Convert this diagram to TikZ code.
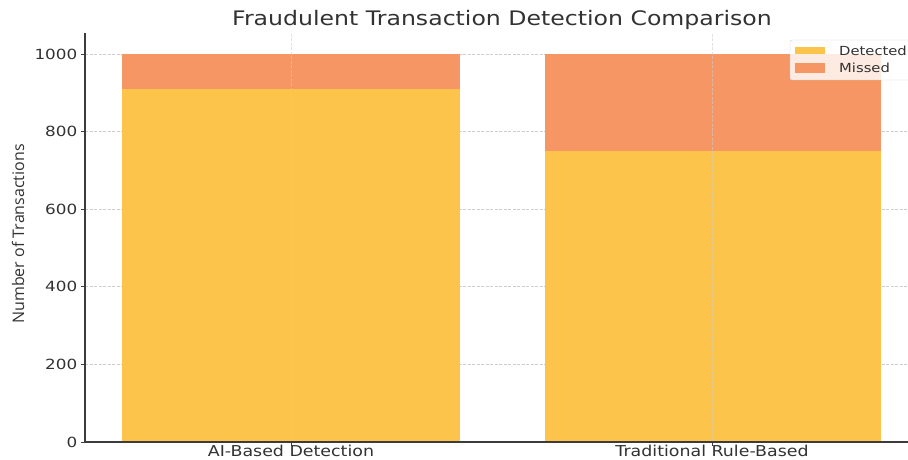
\documentclass[tikz,border=0pt]{standalone}
\usepackage{fontspec}
\setmainfont{DejaVu Sans}
\newfontfamily\ylabfont{Open Sans}
\definecolor{detected}{RGB}{253,196,75}
\definecolor{missed}{RGB}{245,150,100}
\definecolor{spine}{RGB}{60,60,60}
\definecolor{gridgray}{RGB}{205,205,205}
\definecolor{textgray}{RGB}{50,50,50}

\begin{document}
\begin{tikzpicture}[x=1pt,y=1pt,
  gridline/.style={gridgray,dash pattern=on 3pt off 1.5pt,line width=0.7pt},
  ticklabel/.style={text=textgray,inner sep=0pt,xscale=1.2,font=\fontsize{14}{14}\selectfont},
  catlabel/.style={text=textgray,inner sep=0pt,xscale=1.16,font=\fontsize{15}{15}\selectfont},
  legtext/.style={text=textgray,inner sep=0pt,anchor=west,xscale=1.18,font=\fontsize{12.5}{12.5}\selectfont}]
\useasboundingbox (0,0) rectangle (908,459);
\clip (0,0) rectangle (908,459);

\coordinate (O) at (85,17);% axes origin
\coordinate (T) at (85,426);% top of y axis
\coordinate (R) at (915,17);% right end, cut off

\begin{scope}[shift={(0,17)},y=0.388pt]
\foreach \v in {200,400,...,1000}{
    \draw[gridline] (85,\v) -- (915,\v);
}
\fill[detected] (122,0) rectangle (460,910);% AI detected
\fill[missed] (122,910) rectangle (460,1000);% AI missed
\fill[detected] (545,0) rectangle (881,750);% rule detected
\fill[missed] (545,750) rectangle (881,1000);% rule missed
\foreach \x in {291,712}{
    \draw[gridline,opacity=0.6] (\x,0) -- (\x,1055);
    \draw[spine,line width=0.8pt] (\x,0) -- (\x,-10);
}
\foreach \v in {0,200,...,1000}{
    \draw[spine,line width=0.8pt] (81,\v) -- (85,\v);
    \node[ticklabel,anchor=east] (ytick\v) at (77.5,\v) {\v};
}
\end{scope}

\draw[spine,line width=1.1pt] (T) -- (O) -- (R);% spines

\node[catlabel] (catai) at (291,8.2) {AI-Based Detection};
\node[catlabel] (catrule) at (712,8.2) {Traditional Rule-Based};
\node[text=black!80,inner sep=0pt,rotate=90,font=\ylabfont\fontsize{16}{16}\selectfont] (ylab) at (18,225) {Number of Transactions};
\node[text=textgray,inner sep=0pt,xscale=1.18,font=\fontsize{20}{20}\selectfont] (title) at (502,439.5) {Fraudulent Transaction Detection Comparison};

% legend
\draw[gridgray,fill=white,fill opacity=0.8,rounded corners=2pt] (790,419) rectangle (920,379);
\fill[detected] (795,412) rectangle (825,405);
\fill[missed] (795,396) rectangle (825,386);
\node[legtext] (legdet) at (839,408.5) {Detected};
\node[legtext] (legmiss) at (839,391) {Missed};
\end{tikzpicture}
\end{document}
